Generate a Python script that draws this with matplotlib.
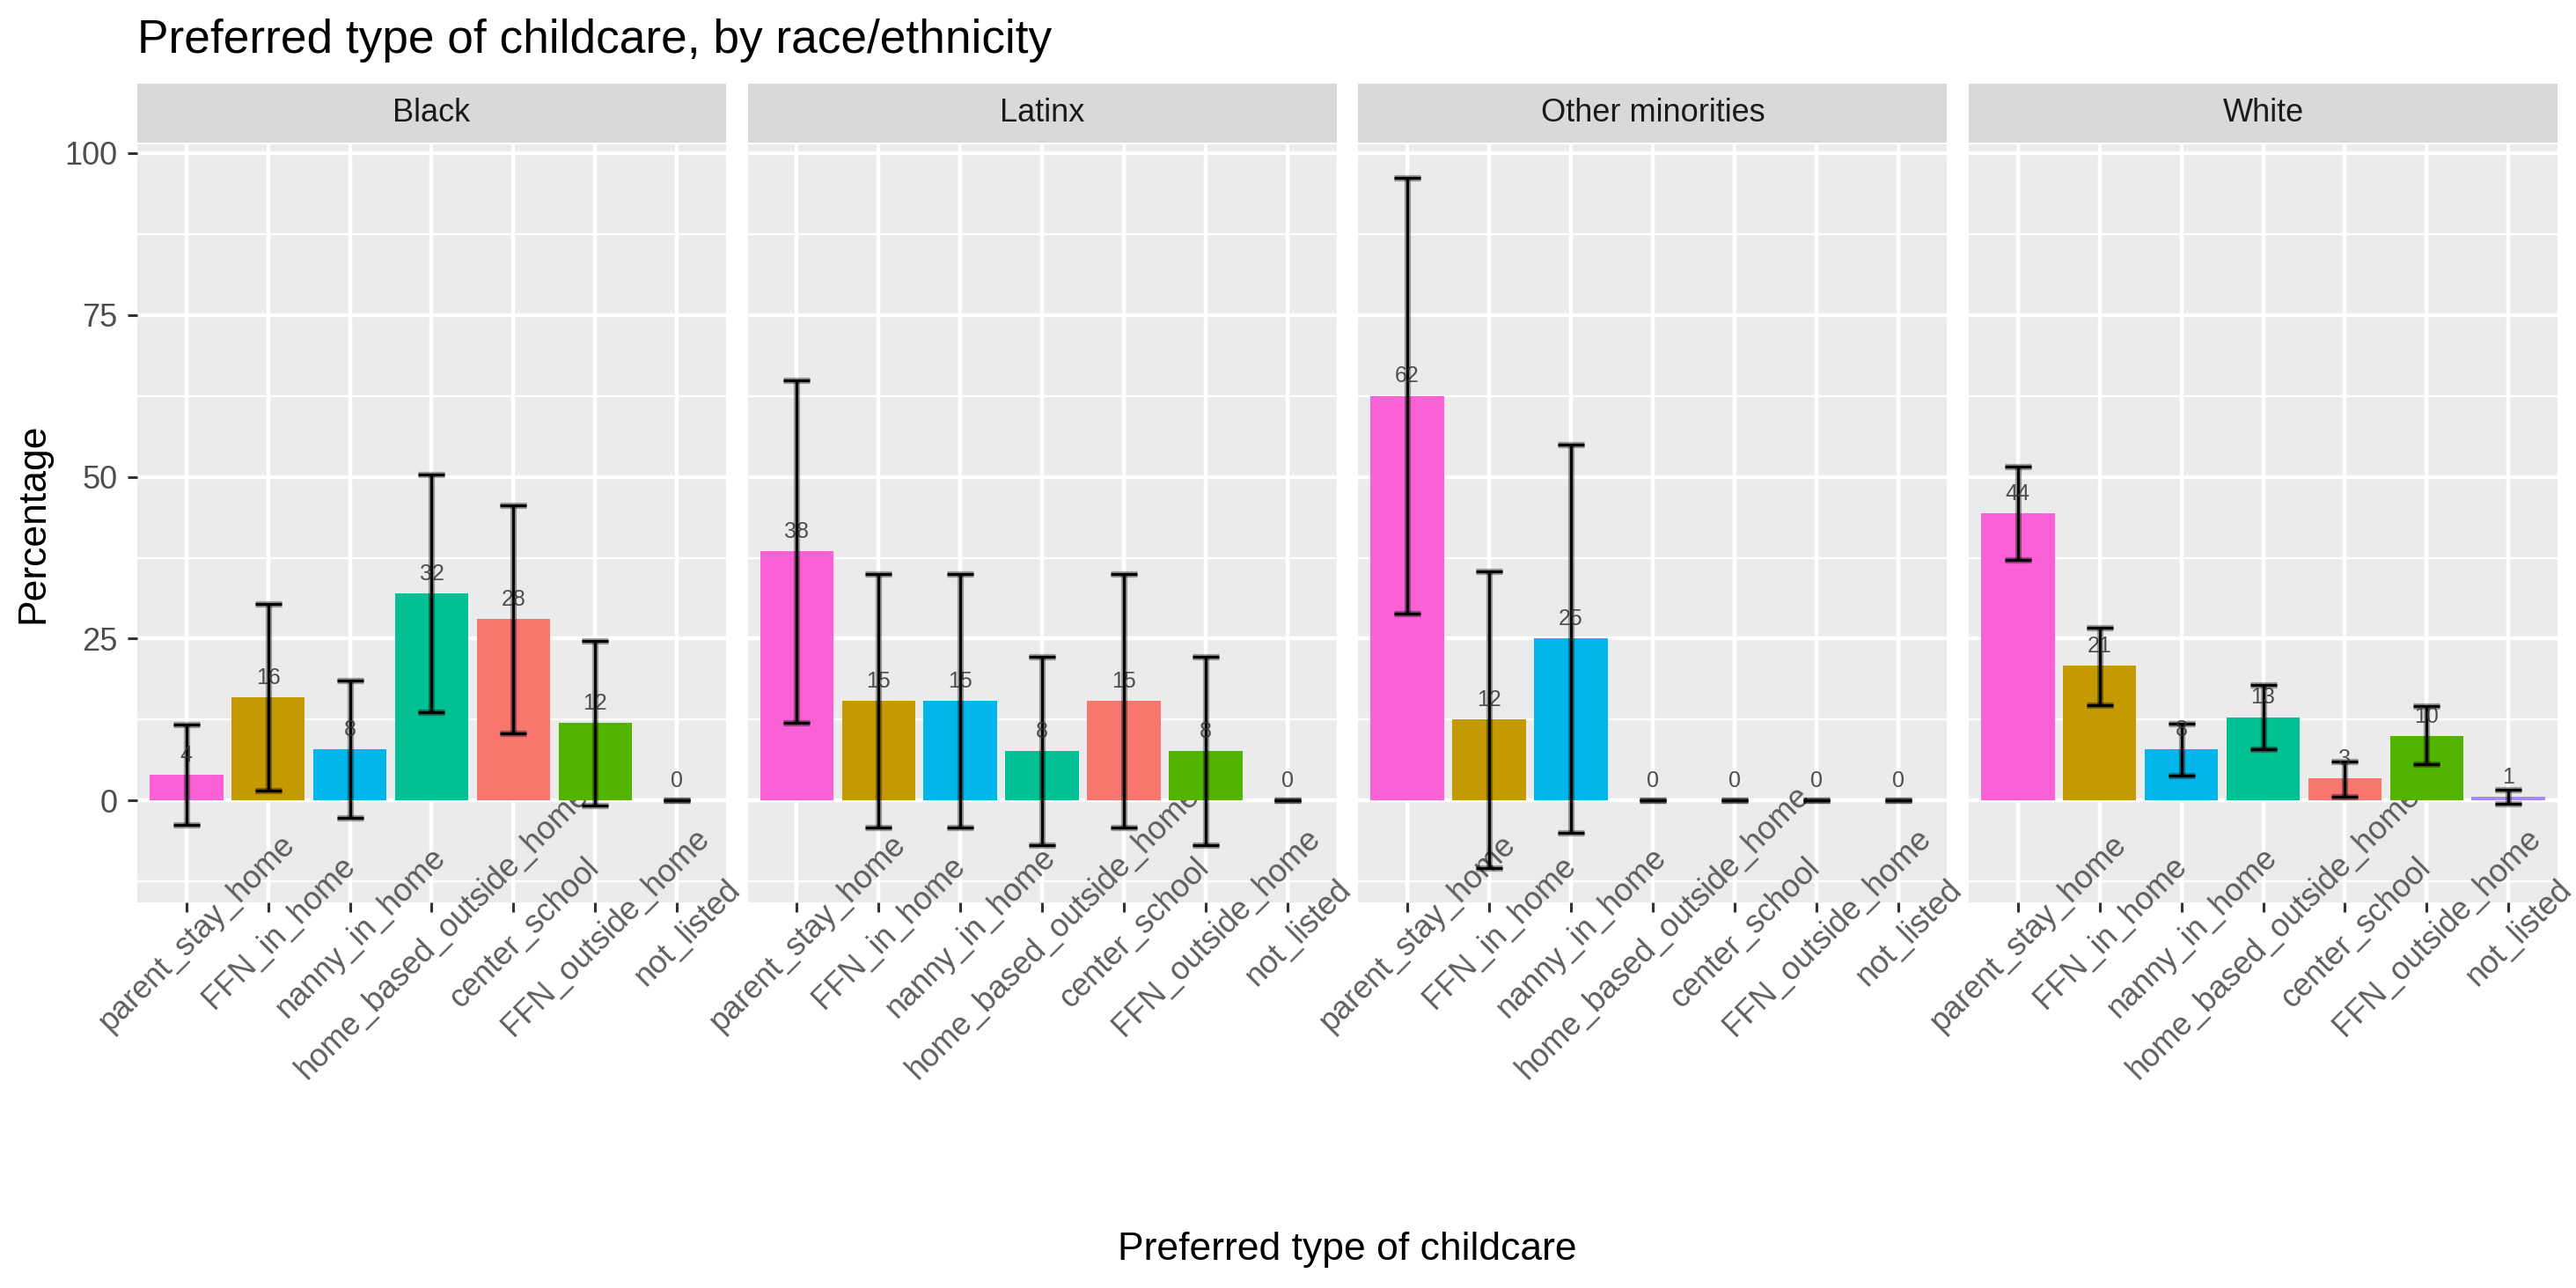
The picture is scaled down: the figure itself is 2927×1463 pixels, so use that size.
import numpy as np
import matplotlib.pyplot as plt
from matplotlib.patches import Rectangle

plt.rcParams['font.family'] = ['Liberation Sans', 'DejaVu Sans']

categories = ['parent_stay_home', 'FFN_in_home', 'nanny_in_home',
              'home_based_outside_home', 'center_school', 'FFN_outside_home',
              'not_listed']
groups = ['Black', 'Latinx', 'Other minorities', 'White']

# percentage, lower and upper end of the error bar
black_pct = [4.0, 16.0, 8.0, 32.0, 28.0, 12.0, 0.0]
black_lo = [-3.7, 1.6, -2.6, 13.7, 10.4, -0.7, 0.0]
black_hi = [11.7, 30.4, 18.6, 50.3, 45.6, 24.7, 0.0]

latinx_pct = [38.5, 15.4, 15.4, 7.7, 15.4, 7.7, 0.0]
latinx_lo = [12.0, -4.2, -4.2, -6.8, -4.2, -6.8, 0.0]
latinx_hi = [64.9, 35.0, 35.0, 22.2, 35.0, 22.2, 0.0]

other_pct = [62.5, 12.5, 25.0, 0.0, 0.0, 0.0, 0.0]
other_lo = [28.9, -10.4, -5.0, 0.0, 0.0, 0.0, 0.0]
other_hi = [96.1, 35.4, 55.0, 0.0, 0.0, 0.0, 0.0]

white_pct = [44.3, 20.8, 7.9, 12.9, 3.4, 10.0, 0.6]
white_lo = [37.1, 14.8, 3.9, 7.9, 0.6, 5.6, -0.5]
white_hi = [51.6, 26.7, 11.9, 17.8, 6.1, 14.6, 1.7]

pct = [black_pct, latinx_pct, other_pct, white_pct]
lows = [black_lo, latinx_lo, other_lo, white_lo]
highs = [black_hi, latinx_hi, other_hi, white_hi]

# ggplot default hue palette, assigned alphabetically
colors = {
    'center_school': '#F8766D',
    'FFN_in_home': '#C49A00',
    'FFN_outside_home': '#53B400',
    'home_based_outside_home': '#00C094',
    'nanny_in_home': '#00B6EB',
    'not_listed': '#A58AFF',
    'parent_stay_home': '#FB61D7',
}

yticks = [0, 25, 50, 75, 100]
yminor = [-12.5, 12.5, 37.5, 62.5, 87.5]

W, H = 2927, 1463
DPI = 200
fig = plt.figure(figsize=(W / DPI, H / DPI), dpi=DPI)

left, right = 156, 2906
gap = 24.7
pw = (right - left - 3 * gap) / 4
ptop, pbot = 164, 1025
strip_top, strip_bot = 95, 162

x = np.arange(len(categories))
for i, g in enumerate(groups):
    x0 = left + i * (pw + gap)
    ax = fig.add_axes([x0 / W, 1 - pbot / H, pw / W, (pbot - ptop) / H])
    ax.set_facecolor('#EBEBEB')
    for s in ax.spines.values():
        s.set_visible(False)

    # white grid drawn by hand so that tick labels can sit on top of the bars
    for yv in yminor:
        ax.axhline(yv, color='white', lw=0.85, zorder=0.5)
    for yv in yticks:
        ax.axhline(yv, color='white', lw=1.6, zorder=0.6)
    for xv in x:
        ax.axvline(xv, color='white', lw=1.6, zorder=0.6)

    v = np.array(pct[i])
    lo = np.array(lows[i])
    hi = np.array(highs[i])
    ax.bar(x, v, width=0.9, color=[colors[c] for c in categories], zorder=2)
    # soft halo + black core for the error bars
    ax.errorbar(x, v, yerr=[v - lo, hi - v], fmt='none', ecolor='black',
                elinewidth=2.6, capsize=5.4, capthick=2.6, alpha=0.35, zorder=3)
    ax.errorbar(x, v, yerr=[v - lo, hi - v], fmt='none', ecolor='black',
                elinewidth=1.2, capsize=5.4, capthick=1.2, zorder=4)
    for xi, vi in zip(x, v):
        ax.text(xi, vi + 3, str(round(vi)), ha='center', va='center',
                fontsize=9, color='#333333', alpha=0.85, zorder=5)

    ax.set_xlim(-0.6, 6.6)
    ax.set_ylim(-15.7, 101.3)
    ax.set_yticks(yticks)
    ax.set_xticks(x)
    ax.set_xticklabels(categories, rotation=45, ha='center', va='top',
                       rotation_mode='anchor', color='#4D4D4D', fontsize=13,
                       alpha=0.9)
    ax.tick_params(axis='x', length=4, width=1.1, color='#333333', pad=4)
    if i == 0:
        ax.tick_params(axis='y', length=4, width=1.1, color='#333333', pad=4,
                       labelcolor='#4D4D4D', labelsize=13)
    else:
        ax.tick_params(axis='y', left=False, labelleft=False)

    # facet strip
    fig.patches.append(Rectangle((x0 / W, 1 - strip_bot / H), pw / W,
                                 (strip_bot - strip_top) / H,
                                 transform=fig.transFigure,
                                 facecolor='#D9D9D9', edgecolor='none'))
    fig.text((x0 + pw / 2) / W, 1 - (strip_top + strip_bot) / 2 / H, g,
             ha='center', va='center', fontsize=13, color='#1A1A1A')

fig.text(left / W, 1 - 60 / H, 'Preferred type of childcare, by race/ethnicity',
         fontsize=19.2, ha='left', va='baseline')
fig.text(38 / W, 1 - 594 / H, 'Percentage', rotation=90, ha='center',
         va='center', fontsize=16)
fig.text((left + right) / 2 / W, 1 - 1419 / H, 'Preferred type of childcare',
         ha='center', va='center', fontsize=16)

fig.savefig('out.png', dpi=DPI)
